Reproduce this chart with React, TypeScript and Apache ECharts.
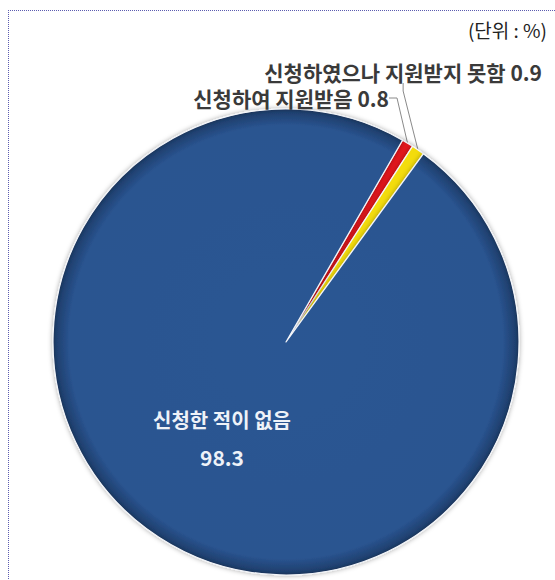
import React, { useEffect, useRef } from "react";
import * as echarts from "echarts";

const categories = ["신청하여 지원받음", "신청하였으나 지원받지 못함", "신청한 적이 없음"];
const values = [0.8, 0.9, 98.3];
const unitText = "(단위 : %)";

const FONT = "'Noto Sans CJK KR', 'Noto Sans', sans-serif";

export default function App() {
  const ref = useRef<HTMLDivElement>(null);
  useEffect(() => {
    document.body.style.margin = "0";
    document.body.style.overflow = "hidden";
    const chart = echarts.init(ref.current!, null, { renderer: "svg" });
    const blueFill = new echarts.graphic.RadialGradient(0.5, 0.5, 0.5, [
      { offset: 0, color: "#2c5793" },
      { offset: 0.93, color: "#2a5490" },
      { offset: 0.985, color: "#1f406f" },
      { offset: 1, color: "#1a3358" },
    ]);
    const colors = ["#e3141c", "#f3dc10", blueFill];
    const data = categories.map((name, i) => ({
      name,
      value: values[i],
      itemStyle: { color: colors[i] as any },
      label:
        i === 2
          ? {
              position: "inside",
              formatter: (p: any) => `{a|${p.name}}\n{b|${p.value}}`,
              rich: {
                a: { fontFamily: FONT, fontSize: 20, fontWeight: "bold", color: "#eef2f8", lineHeight: 38 },
                b: { fontFamily: FONT, fontSize: 21, fontWeight: "bold", color: "#eef2f8", lineHeight: 38 },
              },
            }
          : undefined,
      labelLine: i === 2 ? { show: false } : undefined,
    }));
    chart.setOption({
      animation: false,
      backgroundColor: "#ffffff",
      graphic: [
        {
          type: "text",
          right: 8,
          top: 20,
          style: { text: unitText, fontFamily: FONT, fontSize: 19, fill: "#222222" },
        },
      ],
      series: [
        {
          type: "pie",
          center: [286, 342],
          radius: 233,
          startAngle: 60,
          clockwise: true,
          avoidLabelOverlap: false,
          itemStyle: {
            borderColor: "#f4f6fa",
            borderWidth: 1.2,
            shadowBlur: 5,
            shadowColor: "rgba(0,0,0,0.35)",
          },
          label: {
            show: true,
            position: "outside",
            formatter: (p: any) => `${p.name} ${p.value}`,
            fontFamily: FONT,
            fontSize: 21,
            lineHeight: 22,
            fontWeight: "bold",
            color: "#3a3a3a",
          },
          labelLine: {
            show: true,
            length: 20,
            length2: 8,
            lineStyle: { color: "#8a8a8a", width: 1 },
          },
          labelLayout: (params: any) => {
            if (params.dataIndex === 0) {
              return { x: 389, y: 98, align: "right", verticalAlign: "middle" };
            }
            if (params.dataIndex === 1) {
              return { x: 542, y: 72, align: "right", verticalAlign: "middle" };
            }
            return { x: 222, y: 438, align: "center", verticalAlign: "middle" };
          },
          data,
        },
      ],
    });
    return () => chart.dispose();
  }, []);
  return (
    <div style={{ position: "fixed", left: 0, top: 0, width: 555, height: 580 }}>
      <div ref={ref} style={{ position: "absolute", left: 0, top: 0, width: 555, height: 580 }} />
      <div
        style={{
          position: "absolute",
          left: 8,
          top: 10,
          width: 560,
          height: 600,
          borderLeft: "1px dotted #5c5cb0",
          borderTop: "1px dotted #5c5cb0",
          pointerEvents: "none",
        }}
      />
    </div>
  );
}
